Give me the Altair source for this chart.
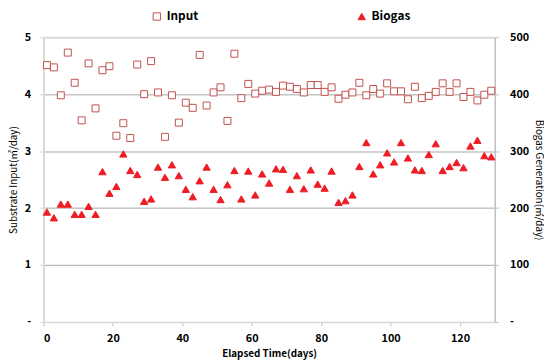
import altair as alt
import pandas as pd

days = [1, 3, 5, 7, 9, 11, 13, 15, 17, 19, 21, 23, 25, 27, 29, 31, 33, 35, 37, 39,
        41, 43, 45, 47, 49, 51, 53, 55, 57, 59, 61, 63, 65, 67, 69, 71, 73, 75, 77, 79,
        81, 83, 85, 87, 89, 91, 93, 95, 97, 99, 101, 103, 105, 107, 109, 111, 113, 115,
        117, 119, 121, 123, 125, 127, 129]

input_vals = [4.51, 4.47, 3.98, 4.73, 4.20, 3.54, 4.54, 3.75, 4.42, 4.49,
              3.27, 3.49, 3.23, 4.52, 4.00, 4.58, 4.03, 3.25, 3.98, 3.50,
              3.85, 3.76, 4.69, 3.80, 4.03, 4.12, 3.53, 4.71, 3.93, 4.18,
              4.01, 4.06, 4.08, 4.04, 4.15, 4.13, 4.09, 4.03, 4.16, 4.16,
              4.04, 4.12, 3.92, 3.99, 4.03, 4.20, 3.98, 4.09, 4.01, 4.19,
              4.05, 4.05, 3.91, 4.13, 3.93, 3.97, 4.04, 4.19, 4.04, 4.19,
              3.95, 4.04, 3.89, 3.99, 4.06]

biogas_vals = [193, 183, 207, 207, 189, 189, 203, 189, 264, 226,
               238, 295, 266, 259, 212, 216, 272, 254, 276, 257,
               233, 220, 248, 272, 233, 215, 241, 266, 216, 265,
               223, 260, 244, 269, 268, 233, 257, 234, 267, 242,
               235, 265, 210, 213, 223, 273, 315, 260, 276, 297,
               281, 315, 288, 267, 266, 294, 313, 266, 273, 280,
               271, 309, 319, 292, 290]

series_names = ["Input", "Biogas"]
x_ticks = [0, 20, 40, 60, 80, 100, 120]
left_ticks = [0, 1, 2, 3, 4, 5]
right_ticks = [0, 100, 200, 300, 400, 500]

FONT = "Noto Sans CJK KR"

df_in = pd.DataFrame({"day": days, "value": input_vals, "series": "Input"})
df_bg = pd.DataFrame({"day": days, "value": biogas_vals, "series": "Biogas"})

leg = alt.Legend(orient="none", legendX=109, legendY=-27, direction="horizontal",
                 title=None, columnPadding=159, labelFontSize=12,
                 labelFontWeight="bold", labelFont=FONT, symbolSize=55,
                 symbolStrokeWidth=1, labelOffset=4, labelColor="#000000")

fill_enc = alt.Fill("series:N", scale=alt.Scale(domain=series_names, range=["white", "#ee1c24"]), legend=leg)
stroke_enc = alt.Stroke("series:N", scale=alt.Scale(domain=series_names, range=["#c0504d", "#ee1c24"]), legend=leg)
shape_enc = alt.Shape("series:N", scale=alt.Scale(domain=series_names, range=["square", "triangle-up"]), legend=leg)

x_enc = alt.X("day:Q", scale=alt.Scale(domain=[0, 130], nice=False, zero=False),
              axis=alt.Axis(values=x_ticks, title="Elapsed Time(days)", grid=False,
                            domainColor="#d9d9d9", domainWidth=1.5,
                            tickColor="#bfbfbf", tickSize=4, labelPadding=7,
                            labelFontWeight="bold", labelFontSize=11,
                            titleFontWeight="bold", titleFontSize=10, titlePadding=5,
                            labelFont=FONT, titleFont=FONT, labelColor="#000", titleColor="#000"))

grid_color = {"condition": {"test": "datum.value === 5", "value": "#d9d9d9"}, "value": "#a6a6a6"}
grid_width = {"condition": {"test": "datum.value === 5", "value": 2}, "value": 1}

layer_in = alt.Chart(df_in).mark_point(filled=True, size=50, strokeWidth=1, opacity=1).encode(
    x=x_enc,
    y=alt.Y("value:Q", scale=alt.Scale(domain=[0, 5], nice=False),
            axis=alt.Axis(orient="left", values=left_ticks, format="d",
                          labelExpr="datum.value == 0 ? '-' : datum.label",
                          title="Substrate Input(㎥/day)", grid=True,
                          gridColor=grid_color, gridWidth=grid_width,
                          domainColor="#d9d9d9", domainWidth=2,
                          tickColor="#d9d9d9", tickSize=4, labelPadding=9,
                          labelFontWeight="bold", labelFontSize=11,
                          titleFontWeight="normal", titleFontSize=10, titlePadding=6,
                          labelFont=FONT, titleFont=FONT, labelColor="#000", titleColor="#000")),
    fill=fill_enc, stroke=stroke_enc, shape=shape_enc,
)

layer_bg = alt.Chart(df_bg).mark_point(filled=True, size=55, strokeWidth=1, opacity=1).encode(
    x=x_enc,
    y=alt.Y("value:Q", scale=alt.Scale(domain=[0, 500], nice=False),
            axis=alt.Axis(orient="right", values=right_ticks, format="d",
                          labelExpr="datum.value == 0 ? '-' : datum.label",
                          title="Biogas Generation(㎥/day)", grid=False,
                          domainColor="#bfbfbf", domainWidth=1.5,
                          tickColor="#bfbfbf", tickSize=4, labelPadding=11,
                          labelFontWeight="bold", labelFontSize=11,
                          titleFontWeight="normal", titleFontSize=10, titlePadding=5,
                          labelFont=FONT, titleFont=FONT, labelColor="#000", titleColor="#000")),
    fill=fill_enc, stroke=stroke_enc, shape=shape_enc,
)

chart = alt.layer(layer_in, layer_bg).resolve_scale(y="independent").properties(
    width=458, height=289,
    autosize=alt.AutoSizeParams(type="none"),
    padding={"left": 36, "top": 27, "right": 50, "bottom": 38},
    background="white",
).configure_view(stroke=None)

chart.save("out.html", embed_options={"renderer": "svg", "actions": False})
